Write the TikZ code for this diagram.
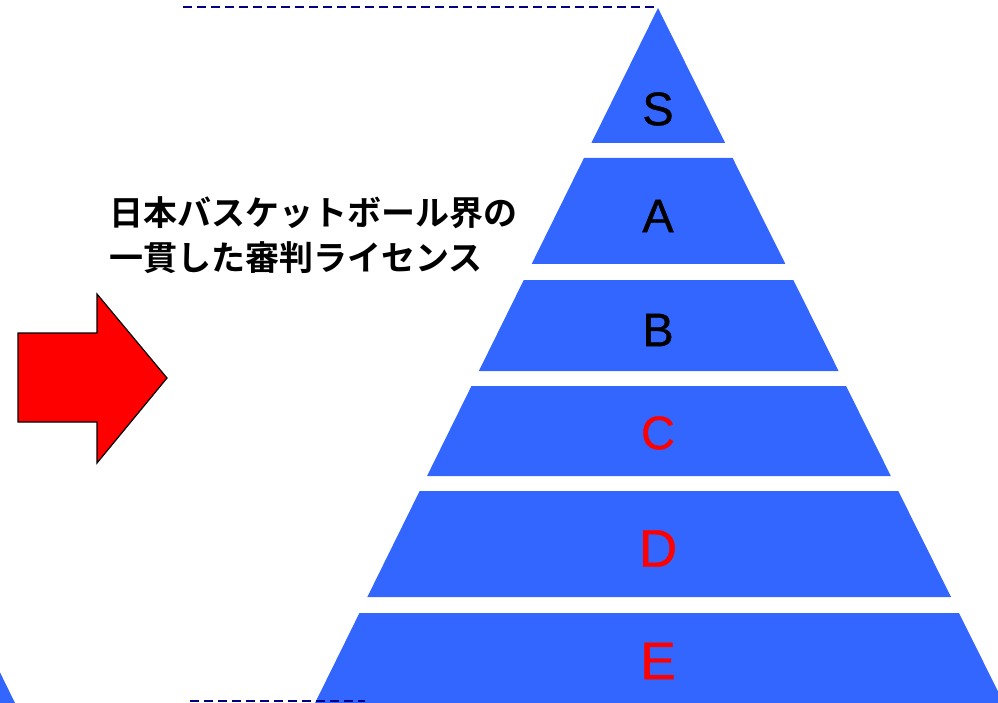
\documentclass[tikz,border=0pt]{standalone}
\usepackage{fontspec}
\setmainfont{Liberation Sans}
\newfontfamily\lvlfont[FakeBold=0.8]{Liberation Sans}
\newfontfamily\jpfont{Noto Sans CJK JP Bold}
\definecolor{pyrblue}{HTML}{3366FF}
\definecolor{navyline}{HTML}{000080}
\begin{document}
\begin{tikzpicture}[x=1pt,y=-1pt,
  band/.style={fill=pyrblue,draw=none},
  lvl/.style={inner sep=0pt,font=\lvlfont\fontsize{47}{47}\selectfont},
  lvlbig/.style={inner sep=0pt,font=\lvlfont\fontsize{53}{53}\selectfont},
  guide/.style={draw=navyline,line width=2.3pt,dash pattern=on 9pt off 5pt},
  redarrow/.style={fill=red,draw=black,line width=1.2pt,line join=miter}]
\useasboundingbox (0,0) rectangle (998,703);
\clip (0,0) rectangle (998,703);
% pyramid bands: left x(y)=658-0.4935(y-8), right x(y)=658+0.4975(y-8)
\def\lx#1{{658-0.4935*(#1-8)}}
\def\rx#1{{658+0.4975*(#1-8)}}
\fill[band] (658,8) -- (\rx{143},143) -- (\lx{143},143) -- cycle;
\foreach \t/\b in {158/264,280/371,386/476,491/597,613/715}{
  \fill[band] (\lx{\t},\t) -- (\rx{\t},\t) -- (\rx{\b},\b) -- (\lx{\b},\b) -- cycle;
}
% partial shape at lower left
\fill[band] (-10,652) -- (16,705) -- (-10,705) -- cycle;
% letters
\node[lvl] (s) at (658,109) {S};
\node[lvl] (a) at (658,216) {A};
\node[lvl] (b) at (658,330) {B};
\node[lvl,text=red] (c) at (658,433) {C};
\node[lvlbig,text=red] (d) at (658,548.5) {D};
\node[lvlbig,text=red] (e) at (658,661) {E};
% dashed guide lines
\coordinate (t1) at (183,7);
\coordinate (t2) at (655,7);
\coordinate (b1) at (190,701);
\coordinate (b2) at (365,701);
\draw[guide] (t1) -- (t2);
\draw[guide] (b1) -- (b2);
% red arrow
\draw[redarrow] (18,333) -- (97,333) -- (97,294) -- (167,378) -- (97,463) -- (97,422) -- (18,422) -- cycle;
% caption
\node[anchor=west,inner sep=0pt,font=\jpfont\fontsize{34}{45}\selectfont,align=left] (cap) at (109,235)
  {日本バスケットボール界の\\一貫した審判ライセンス};
\end{tikzpicture}
\end{document}
